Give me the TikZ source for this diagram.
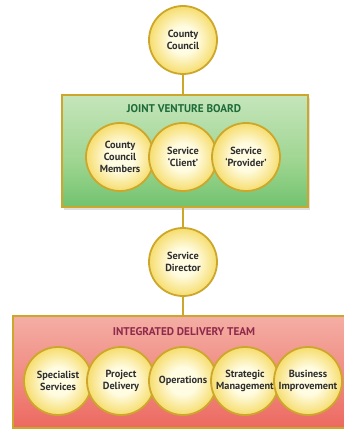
\documentclass[tikz,border=0pt]{standalone}
\usepackage{fontspec}
\setmainfont{PT Sans}
\usetikzlibrary{shadows}

\definecolor{gold}{HTML}{CDA72B}
\definecolor{cream}{HTML}{FFFCE2}
\definecolor{yel}{HTML}{F6DD6E}
\definecolor{txt}{HTML}{2E2E2E}
\definecolor{jvbtitle}{HTML}{1F6B3A}
\definecolor{idttitle}{HTML}{8E2A4A}
\definecolor{gB}{HTML}{38AC45}
\definecolor{gM}{HTML}{9ED590}
\definecolor{gT}{HTML}{E6F3DF}
\definecolor{rB}{HTML}{E8423C}
\definecolor{rM}{HTML}{F0877D}
\definecolor{rT}{HTML}{F8CEC6}

% soft cream-to-yellow ball fill for the role circles
\pgfdeclareradialshading{roleball}{\pgfpoint{0bp}{0bp}}{%
  color(0bp)=(cream); color(10bp)=(cream); color(25bp)=(yel); color(50bp)=(yel)}
% green panel, pale at the top
\pgfdeclareverticalshading{jvbfill}{100bp}{%
  color(0bp)=(gB); color(45bp)=(gM); color(100bp)=(gT)}
% red panel, pale at the top
\pgfdeclareverticalshading{idtfill}{100bp}{%
  color(0bp)=(rB); color(45bp)=(rM); color(100bp)=(rT)}

\tikzset{
  role/.style={circle, draw=gold, line width=1.8pt, shading=roleball,
    minimum size=68pt, inner sep=0pt, align=center, text=txt,
    font=\bfseries\fontsize{10.3}{12}\selectfont},
  panel/.style={rectangle, draw=gold, line width=1.8pt, inner sep=0pt},
  paneltitle/.style={font=\bfseries\fontsize{11.2}{13}\selectfont},
  link/.style={draw=gold, line width=1.8pt}
}

\begin{document}
\begin{tikzpicture}[x=1pt,y=-1pt]
\useasboundingbox (0,0) rectangle (343,430);
\fill[white] (0,0) rectangle (343,430);

% panels
\node[panel, shading=jvbfill, minimum width=246pt, minimum height=112pt,
  drop shadow={shadow xshift=2pt, shadow yshift=-3pt, opacity=0.25}] (jvb) at (185,151) {};
\node[panel, shading=idtfill, minimum width=332pt, minimum height=112pt] (idt) at (179,372) {};

\node[paneltitle, text=jvbtitle] (jvbt) at (184,109) {JOINT VENTURE BOARD};
\node[paneltitle, text=idttitle] (idtt) at (184,332) {INTEGRATED DELIVERY TEAM};

% top and middle roles
\node[role] (cc) at (183,40) {County\\Council};
\node[role] (sd) at (183,262) {Service\\Director};

% board members
\node[role] (ccm) at (120,157) {County\\Council\\Members};
\node[role] (sc) at (183,157) {Service\\`Client'};
\node[role] (sp) at (246,157) {Service\\`Provider'};

% delivery team units
\node[role] (ss) at (58,381) {Specialist\\Services};
\node[role] (pd) at (121,381) {Project\\Delivery};
\node[role] (op) at (183,381) {Operations};
\node[role] (sm) at (245,381) {Strategic\\Management};
\node[role] (bi) at (308,381) {Business\\Improvement};

% reporting lines
\draw[link] (cc.south) -- (cc.south |- jvb.north);
\draw[link] (sd.north |- jvb.south) -- (sd.north);
\draw[link] (sd.south) -- (sd.south |- idt.north);
\end{tikzpicture}
\end{document}
